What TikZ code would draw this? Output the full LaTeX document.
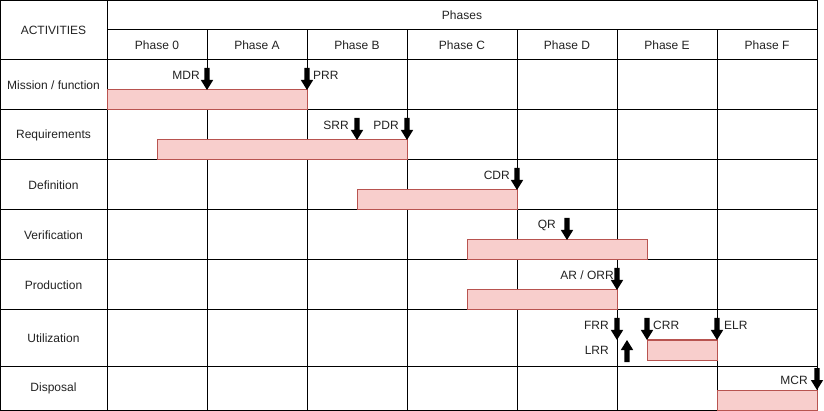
\documentclass[tikz,border=0pt]{standalone}
\usepackage{fontspec}
\setmainfont{Liberation Sans}
\definecolor{barfill}{HTML}{F8CECC}
\definecolor{barline}{HTML}{B85450}
\definecolor{txt}{HTML}{222222}
\begin{document}
\begin{tikzpicture}[x=1pt,y=-1pt,
  grid/.style={line width=1pt, black},
  bar/.style={fill=barfill, draw=barline, line width=1pt},
  lbl/.style={font=\fontsize{12}{14}\selectfont, inner sep=0pt, text=txt},
  darr/.pic={\fill[black] (-2.6,-22) -- (2.6,-22) -- (2.6,-10) -- (6.2,-10) -- (0,0) -- (-6.2,-10) -- (-2.6,-10) -- cycle;},
  uarr/.pic={\fill[black] (-2.6,22) -- (2.6,22) -- (2.6,10) -- (6.2,10) -- (0,0) -- (-6.2,10) -- (-2.6,10) -- cycle;}]
\useasboundingbox (0,0) rectangle (824,411);
% grid
\draw[grid] (0.5,0.5) rectangle (817,410);
\draw[grid] (107,0.5) -- (107,410);
\draw[grid] (107,30) -- (817,30);
\foreach \y in {60,110,160,210,260,310,366} \draw[grid] (0.5,\y) -- (817,\y);
\foreach \x in {207,307,407,517,617,717} \draw[grid] (\x,30) -- (\x,410);
% headers
\node[lbl] (act) at (53.5,30) {ACTIVITIES};
\node[lbl] (phases) at (462,15) {Phases};
\node[lbl] (p0) at (157,45) {Phase 0};
\node[lbl] (pA) at (257,45) {Phase A};
\node[lbl] (pB) at (357,45) {Phase B};
\node[lbl] (pC) at (462,45) {Phase C};
\node[lbl] (pD) at (567,45) {Phase D};
\node[lbl] (pE) at (667,45) {Phase E};
\node[lbl] (pF) at (767,45) {Phase F};
% row labels
\node[lbl] (r1) at (53.5,85) {Mission / function};
\node[lbl] (r2) at (53.5,135) {Requirements};
\node[lbl] (r3) at (53.5,185) {Definition};
\node[lbl] (r4) at (53.5,235) {Verification};
\node[lbl] (r5) at (53.5,285) {Production};
\node[lbl] (r6) at (53.5,338) {Utilization};
\node[lbl] (r7) at (53.5,388) {Disposal};
% bars
\draw[bar] (107,90) rectangle (307,110);
\draw[bar] (157,140) rectangle (407,160);
\draw[bar] (357,190) rectangle (517,210);
\draw[bar] (467,240) rectangle (647,260);
\draw[bar] (467,290) rectangle (617,310);
\draw[bar] (647,340) rectangle (717,360);
\draw[bar] (717,390) rectangle (817,410);
% milestones
\pic at (207,90) {darr};
\node[lbl, anchor=east] (mdr) at (200,75) {MDR};
\pic at (307,90) {darr};
\node[lbl, anchor=west] (prr) at (313,75) {PRR};
\pic at (357,140) {darr};
\node[lbl, anchor=east] (srr) at (349,125) {SRR};
\pic at (407,140) {darr};
\node[lbl, anchor=east] (pdr) at (399,125) {PDR};
\pic at (517,190) {darr};
\node[lbl, anchor=east] (cdr) at (510,175) {CDR};
\pic at (567,240) {darr};
\node[lbl, anchor=east] (qr) at (556,225) {QR};
\pic at (617,290) {darr};
\node[lbl, anchor=east] (orr) at (614,275) {AR / ORR};
\pic at (617,340) {darr};
\node[lbl, anchor=east] (frr) at (609,325) {FRR};
\pic at (627,340) {uarr};
\node[lbl, anchor=east] (lrr) at (609,350) {LRR};
\pic at (647,340) {darr};
\node[lbl, anchor=west] (crr) at (653,325) {CRR};
\pic at (717,340) {darr};
\node[lbl, anchor=west] (elr) at (724,325) {ELR};
\pic at (817,390) {darr};
\node[lbl, anchor=east] (mcr) at (808,380) {MCR};
\end{tikzpicture}
\end{document}
